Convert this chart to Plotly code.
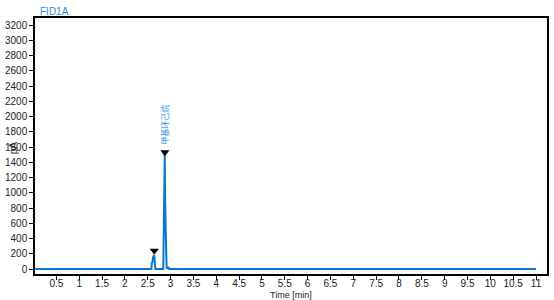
import plotly.graph_objects as go

# Chromatogram signal (time in min, signal in pA)
time_min = [0.0, 2.58, 2.59, 2.603, 2.615, 2.63, 2.645, 2.655, 2.665, 2.84, 2.848, 2.856,
            2.864, 2.872, 2.880, 2.887, 2.894, 2.901, 2.908, 2.916, 2.935, 2.945, 2.955,
            2.965, 11.0]
signal_pa = [0, 0, 80, 90, 150, 175, 170, 120, 0, 0, 380, 360,
             900, 1510, 900, 480, 620, 600, 120, 0, 30, 0, 25,
             0, 0]

# Peak markers
peak_times = [2.644, 2.874]
peak_marks = [240, 1530]
peak_label_time = 2.874
peak_label_value = 1890
peak_label = "甲基环己烷"

x_ticks = [0.5 * i for i in range(1, 23)]
x_labels = [("%g" % v) for v in x_ticks]
y_ticks = list(range(0, 3201, 200))

blue = "#0A78D0"
font_fam = "Liberation Sans, Arial, sans-serif"

fig = go.Figure()
fig.add_trace(go.Scatter(x=time_min, y=signal_pa, mode="lines",
                         line=dict(color=blue, width=2), hoverinfo="skip"))
fig.add_trace(go.Scatter(x=peak_times, y=peak_marks, mode="markers",
                         marker=dict(symbol="triangle-down", size=8, color="black"),
                         hoverinfo="skip"))

fig.update_layout(
    width=554, height=300,
    margin=dict(l=30, r=5, t=18, b=26),
    paper_bgcolor="white", plot_bgcolor="white",
    showlegend=False,
    font=dict(family=font_fam, size=10, color="#222"),
    xaxis=dict(range=[0.032, 11.24], tickvals=x_ticks, ticktext=x_labels,
               ticks="outside", ticklen=4, tickcolor="black", tickwidth=1,
               ticklabelstandoff=-5,
               showgrid=False, zeroline=False, showline=True, linecolor="black",
               linewidth=1.5, mirror=True, tickfont=dict(size=10)),
    yaxis=dict(range=[-65.6, 3292], tickvals=y_ticks,
               ticks="outside", ticklen=4, tickcolor="black", tickwidth=1,
               showgrid=False, zeroline=False, showline=True, linecolor="black",
               linewidth=1.5, mirror=True, tickfont=dict(size=10)),
    annotations=[
        dict(text="FID1A", xref="paper", yref="paper", x=(33 - 30) / 519, y=(274 - 11) / 256,
             xanchor="left", yanchor="middle", showarrow=False,
             font=dict(color="#2A8BDA", size=10)),
        dict(text="pA", xref="paper", yref="paper", x=(8 - 30) / 519, y=(274 - 148) / 256,
             xanchor="center", yanchor="middle", showarrow=False, textangle=-90,
             font=dict(color="#222", size=10)),
        dict(text="Time [min]", xref="paper", yref="paper", x=0.5, y=-(295 - 274) / 256,
             xanchor="center", yanchor="middle", showarrow=False,
             font=dict(color="#222", size=9)),
        dict(text=peak_label, x=peak_label_time, y=peak_label_value, xref="x", yref="y",
             showarrow=False, textangle=-90, xanchor="center", yanchor="middle",
             font=dict(color="#2A8BDA", size=8, family="Noto Sans CJK SC")),
    ],
)

fig.write_html("out.html")
